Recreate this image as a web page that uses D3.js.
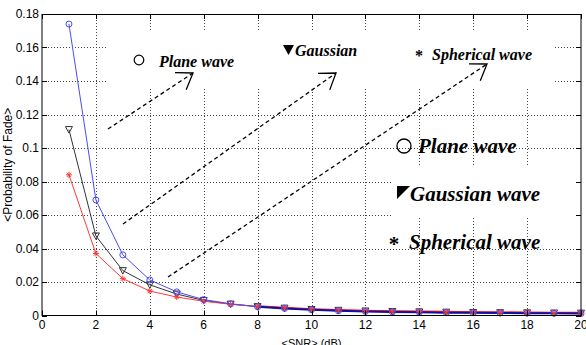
<!DOCTYPE html>
<html>
<head>
<meta charset="utf-8">
<script src="https://cdn.jsdelivr.net/npm/d3@7"></script>
<style>
body { margin: 0; background: #fff; }
svg { display: block; }
</style>
</head>
<body>
<svg id="chart" width="586" height="345"></svg>
<script>
// data
var snr = [1,2,3,4,5,6,7,8,9,10,11,12,13,14,15,16,17,18,19,20];
var planeWave = [0.174,0.069,0.0362,0.0212,0.0141,0.0095,0.0070,0.0052,0.0042,0.0034,0.0028,0.0024,0.0021,0.0019,0.0017,0.0016,0.0015,0.0014,0.0013,0.0012];
var gaussWave = [0.111,0.0475,0.0268,0.0183,0.0128,0.0090,0.0068,0.0053,0.0044,0.0036,0.0031,0.0027,0.0024,0.0022,0.0020,0.0018,0.0017,0.0016,0.0015,0.0014];
var spherWave = [0.084,0.0370,0.0220,0.0146,0.0110,0.0085,0.0067,0.0055,0.0046,0.0038,0.0033,0.0029,0.0026,0.0024,0.0022,0.0020,0.0019,0.0018,0.0017,0.0016];
var xTicks = [0,2,4,6,8,10,12,14,16,18,20];
var yTicks = [0,0.02,0.04,0.06,0.08,0.1,0.12,0.14,0.16,0.18];

var svg = d3.select("#chart");
var pLeft = 42, pRight = 581, pTop = 14, pBottom = 315.5;

var x = d3.scaleLinear().domain([0,20]).range([pLeft,pRight]);
var y = d3.scaleLinear().domain([0,0.18]).range([pBottom,pTop]);

svg.append("rect").attr("width",586).attr("height",345).attr("fill","#fff");

// grid
var grid = svg.append("g").attr("stroke","#444").attr("stroke-width",1).attr("stroke-dasharray","1,2");
grid.selectAll(".gx").data(xTicks.slice(1,-1)).enter().append("line")
    .attr("x1",d=>Math.round(x(d))+0.5).attr("x2",d=>Math.round(x(d))+0.5)
    .attr("y1",pTop).attr("y2",pBottom);
grid.selectAll(".gy").data(yTicks.slice(1,-1)).enter().append("line")
    .attr("y1",d=>Math.round(y(d))+0.5).attr("y2",d=>Math.round(y(d))+0.5)
    .attr("x1",pLeft).attr("x2",pRight);

// white backgrounds of the annotation boxes
svg.append("rect").attr("x",108).attr("y",30).attr("width",445).attr("height",58).attr("fill","#fff");
svg.append("rect").attr("x",392).attr("y",167).attr("width",188).attr("height",51).attr("fill","#fff");

// dashed arrows
var arrows = [[108,129,193,73],[123,224,336,73],[168,277,487,64]];
var ag = svg.append("g").attr("stroke","#000").attr("stroke-width",1.3).attr("fill","none");
arrows.forEach(function(a){
    ag.append("line").attr("x1",a[0]).attr("y1",a[1]).attr("x2",a[2]).attr("y2",a[3])
      .attr("stroke-dasharray","4,3");
    var ang = Math.atan2(a[1]-a[3], a[0]-a[2]);
    var h = 0.6, len = 18;
    var p1 = [a[2]+len*Math.cos(ang+h), a[3]+len*Math.sin(ang+h)];
    var p2 = [a[2]+len*Math.cos(ang-h), a[3]+len*Math.sin(ang-h)];
    ag.append("path").attr("d","M"+p1+"L"+a[2]+","+a[3]+"L"+p2);
});

// annotation texts
var serif = "'Liberation Serif','Times New Roman',serif";
function note(tx,ty,str,size){
    svg.append("text").attr("x",tx).attr("y",ty).text(str)
       .attr("font-family",serif).attr("font-weight","bold").attr("font-style","italic")
       .attr("font-size",size).attr("fill","#000");
}
svg.append("circle").attr("cx",139).attr("cy",60).attr("r",4.8).attr("fill","none").attr("stroke","#000").attr("stroke-width",1.2);
note(159,67,"Plane wave",16);
svg.append("path").attr("d","M283,45L294,45L288.5,55Z").attr("fill","#000");
note(295,56,"Gaussian",16);
svg.append("text").attr("x",419).attr("y",61).text("*").attr("text-anchor","middle")
   .attr("font-family",serif).attr("font-weight","bold").attr("font-size",16);
note(432,60,"Spherical wave",16);

svg.append("circle").attr("cx",404).attr("cy",146).attr("r",7).attr("fill","none").attr("stroke","#000").attr("stroke-width",1.3);
note(418,153,"Plane wave",21);
svg.append("path").attr("d","M397,186L410,186L397,199Z").attr("fill","#000");
note(410,201,"Gaussian wave",21);
svg.append("text").attr("x",394).attr("y",251).text("*").attr("text-anchor","middle")
   .attr("font-family",serif).attr("font-weight","bold").attr("font-size",21);
note(409,249,"Spherical wave",21);

// series
var series = [
    {vals: gaussWave, color: "#333", tail: "#333", marker: "tri"},
    {vals: spherWave, color: "#ff3a3a", tail: "#ff1a1a", marker: "star"},
    {vals: planeWave, color: "#4a4aff", tail: "#1010a0", marker: "circle"}
];
var line = d3.line().x(d=>x(d[0])).y(d=>y(d[1]));
series.forEach(function(s){
    var pts = snr.map((v,i)=>[v,s.vals[i]]);
    svg.append("path").datum(pts).attr("d",line).attr("fill","none")
       .attr("stroke",s.color).attr("stroke-width",1);
    svg.append("path").datum(pts.filter(p=>p[0]>=8)).attr("d",line).attr("fill","none")
       .attr("stroke",s.tail).attr("stroke-width",s.marker=="tri"?1:2);
});
series.forEach(function(s){
    var g = svg.append("g").attr("fill","none").attr("stroke",s.color).attr("stroke-width",1);
    snr.forEach(function(v,i){
        var px = x(v), py = y(s.vals[i]);
        if(s.marker=="circle"){
            g.append("circle").attr("cx",px).attr("cy",py).attr("r",3);
        } else if(s.marker=="tri"){
            g.append("path").attr("d","M"+(px-3.5)+","+(py-3)+"L"+(px+3.5)+","+(py-3)+"L"+px+","+(py+3.5)+"Z");
        } else {
            var r = 3;
            g.append("path").attr("d","M"+(px-r)+","+py+"H"+(px+r)+"M"+px+","+(py-r)+"V"+(py+r)
                +"M"+(px-r*0.7)+","+(py-r*0.7)+"L"+(px+r*0.7)+","+(py+r*0.7)
                +"M"+(px-r*0.7)+","+(py+r*0.7)+"L"+(px+r*0.7)+","+(py-r*0.7));
        }
    });
});

// frame and ticks
var fmt = d => d===0 ? "0" : String(+d.toFixed(2));
svg.append("rect").attr("x",pLeft).attr("y",pTop+0.5).attr("width",pRight-pLeft).attr("height",pBottom-pTop-0.5)
   .attr("fill","none").attr("stroke","#000").attr("stroke-width",1);
var tk = svg.append("g").attr("stroke","#000").attr("stroke-width",1);
xTicks.forEach(function(d){
    var px = Math.round(x(d))+0.5;
    tk.append("line").attr("x1",px).attr("x2",px).attr("y1",pBottom).attr("y2",pBottom-5);
    tk.append("line").attr("x1",px).attr("x2",px).attr("y1",pTop).attr("y2",pTop+5);
});
yTicks.forEach(function(d){
    var py = Math.round(y(d))+0.5;
    tk.append("line").attr("x1",pLeft).attr("x2",pLeft+5).attr("y1",py).attr("y2",py);
    tk.append("line").attr("x1",pRight).attr("x2",pRight-5).attr("y1",py).attr("y2",py);
});
var sans = "'Liberation Sans',Arial,sans-serif";
svg.selectAll(".xl").data(xTicks).enter().append("text")
   .attr("x",d=>x(d)).attr("y",pBottom+13).attr("text-anchor","middle")
   .attr("font-family",sans).attr("font-size",12).text(fmt);
svg.selectAll(".yl").data(yTicks).enter().append("text")
   .attr("x",pLeft-3).attr("y",d=>y(d)+4).attr("text-anchor","end")
   .attr("font-family",sans).attr("font-size",12).text(fmt);

svg.append("text").attr("x",(pLeft+pRight)/2).attr("y",347).attr("text-anchor","middle")
   .attr("font-family",sans).attr("font-size",11).text("<SNR> (dB)");
svg.append("text").attr("transform","translate(12,"+((pTop+pBottom)/2)+") rotate(-90)")
   .attr("text-anchor","middle").attr("font-family",sans).attr("font-size",12)
   .text("<Probability of Fade>");
</script>
</body>
</html>
